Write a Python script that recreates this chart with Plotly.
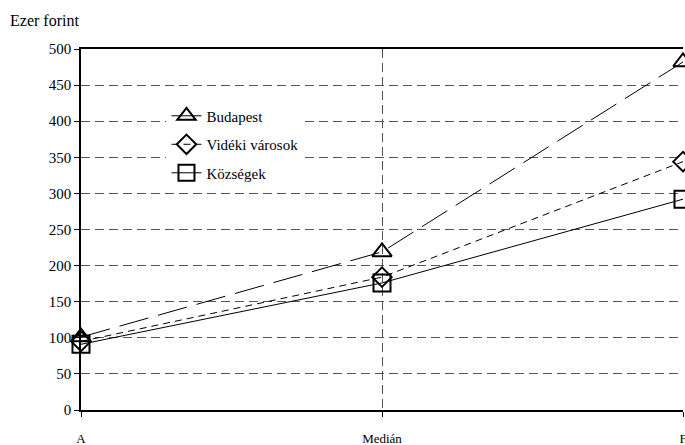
import plotly.graph_objects as go

categories = ["A", "Medián", "F"]
budapest = [101, 219, 482]
videki = [95, 184, 344]
kozsegek = [91, 176, 292]

font_serif = "Liberation Serif, Times New Roman, DejaVu Serif, serif"

fig = go.Figure()
fig.add_trace(go.Scatter(
    x=categories, y=budapest, name="Budapest", mode="lines+markers",
    legendgroup="b", cliponaxis=False,
    line=dict(color="black", width=1, dash="30px,10px"),
    marker=dict(symbol="triangle-up-open", size=17, color="black", line=dict(width=2)),
))
fig.add_trace(go.Scatter(
    x=categories, y=videki, name="Vidéki városok", mode="lines+markers",
    legendgroup="v", cliponaxis=False,
    line=dict(color="black", width=1, dash="7px,5px"),
    marker=dict(symbol="diamond-open", size=15, color="black", line=dict(width=2)),
))
fig.add_trace(go.Scatter(
    x=categories, y=kozsegek, name="Községek", mode="lines+markers",
    legendgroup="k", cliponaxis=False,
    line=dict(color="black", width=1),
    marker=dict(symbol="square-open", size=17, color="black", line=dict(width=2)),
))

fig.update_layout(
    width=685, height=445,
    margin=dict(l=81, r=2, t=49, b=35, autoexpand=False),
    plot_bgcolor="white", paper_bgcolor="white",
    font=dict(family=font_serif, size=15, color="black"),
    showlegend=True,
    legend=dict(x=0.142, y=0.86, xanchor="left", yanchor="top",
                bgcolor="white", font=dict(family=font_serif, size=15),
                tracegroupgap=6),
    annotations=[dict(text="Ezer forint", xref="paper", yref="paper",
                      x=-0.121, y=1.08, xanchor="left", yanchor="middle",
                      showarrow=False, font=dict(family=font_serif, size=16))],
)
fig.update_xaxes(
    type="category", range=[0, 2], automargin=False,
    showline=True, linecolor="black", linewidth=1.5, mirror=True,
    showgrid=True, gridcolor="#555", griddash="9px,5px", gridwidth=1,
    ticks="outside", ticklen=5, tickcolor="black",
    ticklabelstandoff=11, tickfont=dict(family=font_serif, size=13),
    zeroline=False,
)
fig.update_yaxes(
    range=[0, 500], dtick=50, automargin=False,
    showline=True, linecolor="black", linewidth=1.5,
    showgrid=True, gridcolor="#555", griddash="9px,5px", gridwidth=1,
    ticks="outside", ticklen=5, tickcolor="black",
    tickfont=dict(family=font_serif, size=15),
    zeroline=False,
)

fig.write_html("out.html", config={"displayModeBar": False},
               post_script="document.body.style.margin='0';")
